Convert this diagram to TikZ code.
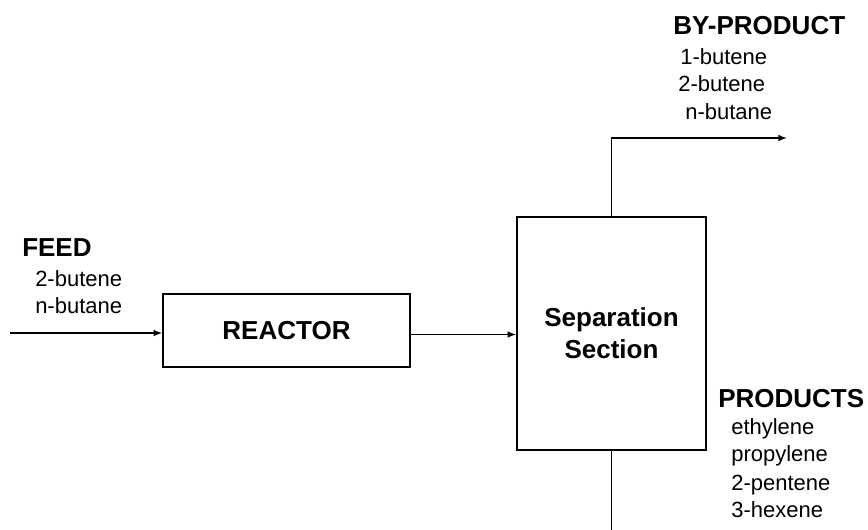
\documentclass[tikz,border=0pt]{standalone}
\usepackage{fontspec}
\setmainfont{Liberation Sans}
\usetikzlibrary{arrows.meta}
\begin{document}
\begin{tikzpicture}[x=0.75pt,y=-0.75pt,
  box/.style={draw,line width=1.1pt,inner sep=0pt,font=\fontsize{19.5}{24}\selectfont\bfseries,align=center},
  title/.style={anchor=base west,inner sep=0pt,font=\fontsize{19.5}{22}\selectfont\bfseries},
  item/.style={anchor=base west,inner sep=0pt,font=\fontsize{16.5}{20}\selectfont},
  arr/.style={line width=1.1pt,-{Latex[length=6.5pt,width=5pt]}},
  pipe/.style={line width=1.1pt}]
\useasboundingbox (0,0) rectangle (868,530);
\node[box,minimum width=185.25pt,minimum height=54.75pt] (reactor) at (286.5,330.5) {REACTOR};
\node[box,minimum width=141.75pt,minimum height=174.75pt] (sep) at (611.5,333.5) {Separation\\Section};
\coordinate (feedin) at (10,333);
\coordinate (byout) at (787,138);
\coordinate (prodout) at (611.5,532);
% connectors
\draw[arr] (feedin) -- (feedin -| reactor.west);
\draw[arr] ([yshift=-3pt]reactor.east) -- ([yshift=-3pt]reactor.east -| sep.west);
\draw[arr] (sep.north) -- (sep.north |- byout) -- (byout);
\draw[pipe] (sep.south) -- (prodout);
% labels
\node[title] (feedt) at (22,257) {FEED};
\node[item] (feed1) at (35,287) {2-butene};
\node[item] (feed2) at (35,314) {n-butane};
\node[title] (byt) at (673,35) {BY-PRODUCT};
\node[item] (by1) at (680,65) {1-butene};
\node[item] (by2) at (678,92) {2-butene};
\node[item] (by3) at (685,120) {n-butane};
\node[title] (prodt) at (718,408) {PRODUCTS};
\node[item] (prod1) at (731,435) {ethylene};
\node[item] (prod2) at (731,462) {propylene};
\node[item] (prod3) at (731,491) {2-pentene};
\node[item] (prod4) at (731,518) {3-hexene};
\end{tikzpicture}
\end{document}
